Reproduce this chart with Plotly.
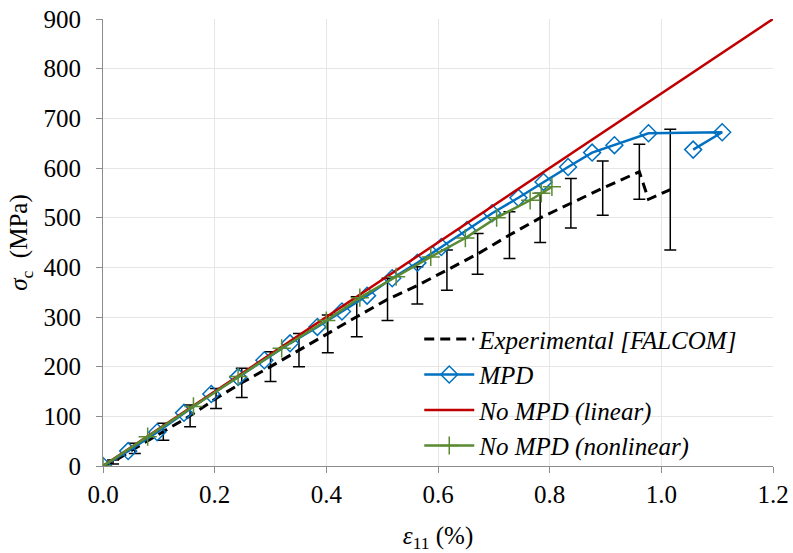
import plotly.graph_objects as go

# ---- data ----
exp_x = [0.0, 0.018, 0.057, 0.108, 0.156, 0.2025, 0.2485, 0.300, 0.351, 0.4026, 0.4545,
         0.5096, 0.563, 0.616, 0.671, 0.728, 0.783, 0.838, 0.895, 0.9606, 0.977, 1.016]
exp_y = [0, 8, 35.5, 69, 101, 136, 167.5, 200, 233.5, 266, 300.5,
         335.5, 363.5, 394.5, 427, 465, 499.5, 529, 559.5, 592.5, 537, 556.5]
exp_err = [None, 4, 10.5, 17, 22, 20, 29.5, 30, 33.5, 38, 40.5,
           42.5, 37.5, 40.5, 41, 47, 49.5, 50, 54.5, 55.5, None, 121.5]

mpd_x = [0.0, 0.045, 0.097, 0.145, 0.194, 0.242, 0.289, 0.335, 0.384, 0.428, 0.473, 0.518,
         0.563, 0.606, 0.652, 0.697, 0.744, 0.789, 0.833, 0.876, 0.916, 0.977, 1.109, 1.057]
mpd_y = [0, 30, 68, 107, 145, 179, 213, 247, 280, 311, 343, 378,
         409, 441, 475, 509, 540, 572, 602, 631, 646, 670, 672, 637]

lin_x = [0.0, 1.2]
lin_y = [0, 900]

nl_x = [0.0, 0.08, 0.162, 0.242, 0.32, 0.40, 0.46, 0.525, 0.587, 0.649, 0.705, 0.765, 0.785, 0.804]
nl_y = [0, 59, 120, 180, 237, 293, 339, 381, 421, 459, 500, 535, 549, 562]

x_ticks = [0.0, 0.2, 0.4, 0.6, 0.8, 1.0, 1.2]
y_ticks = [0, 100, 200, 300, 400, 500, 600, 700, 800, 900]

FONT = "'Liberation Serif', 'Times New Roman', Times, serif"

fig = go.Figure()

fig.add_trace(go.Scatter(
    x=exp_x, y=exp_y, mode="lines", name="Experimental [FALCOM]",
    line=dict(color="black", width=3, dash="10px,6px")))

eb_x = [x for x, e in zip(exp_x, exp_err) if e is not None]
eb_y = [y for y, e in zip(exp_y, exp_err) if e is not None]
eb_e = [e for e in exp_err if e is not None]
fig.add_trace(go.Scatter(
    x=eb_x, y=eb_y, mode="markers", showlegend=False, hoverinfo="skip",
    marker=dict(size=1, color="rgba(0,0,0,0)"),
    error_y=dict(type="data", array=eb_e, visible=True, color="black",
                 thickness=1.5, width=6)))

fig.add_trace(go.Scatter(
    x=mpd_x, y=mpd_y, mode="lines+markers", name="MPD",
    line=dict(color="#0070C0", width=2.5),
    marker=dict(symbol="diamond-open", size=13, color="#0070C0",
                line=dict(width=1.5, color="#0070C0"))))

fig.add_trace(go.Scatter(
    x=lin_x, y=lin_y, mode="lines", name="No MPD (linear)",
    line=dict(color="#C00000", width=2.5)))

fig.add_trace(go.Scatter(
    x=nl_x, y=nl_y, mode="lines+markers", name="No MPD (nonlinear)",
    line=dict(color="#5A8A32", width=2.5),
    marker=dict(symbol="cross-thin", size=13, color="#5A8A32",
                line=dict(width=1.5, color="#5A8A32"))))

axis_common = dict(
    showline=True, linecolor="#8c8c8c", linewidth=1,
    showgrid=True, gridcolor="#e6e6e6", gridwidth=1,
    zeroline=False, ticks="outside", ticklen=6, tickcolor="#8c8c8c",
    tickfont=dict(family=FONT, size=25, color="black"),
    automargin=False,
)

fig.update_xaxes(range=[0, 1.2], tickvals=x_ticks,
                 ticktext=[f"{v:.1f}" for v in x_ticks],
                 title=dict(text="<i>ε</i><sub>11</sub> (%)",
                            font=dict(family=FONT, size=25, color="black"),
                            standoff=20),
                 **axis_common)
fig.update_yaxes(range=[0, 900], tickvals=y_ticks,
                 ticktext=[str(v) for v in y_ticks],
                 ticklabelstandoff=10,
                 title=dict(text="<i>σ</i><sub>c</sub>  (MPa)",
                            font=dict(family=FONT, size=25, color="black"),
                            standoff=8),
                 **axis_common)

fig.update_layout(
    width=793, height=553,
    margin=dict(l=103, r=20, t=19, b=87),
    paper_bgcolor="white", plot_bgcolor="white",
    font=dict(family=FONT),
    legend=dict(x=0.472, y=0.335, xanchor="left", yanchor="top",
                bgcolor="rgba(0,0,0,0)", borderwidth=0,
                font=dict(family=FONT, size=25, color="black", style="italic"),
                tracegroupgap=0, itemwidth=50),
    showlegend=True,
)

fig.write_html("out.html", config={"displayModeBar": False},
               post_script="document.body.style.margin='0';")
